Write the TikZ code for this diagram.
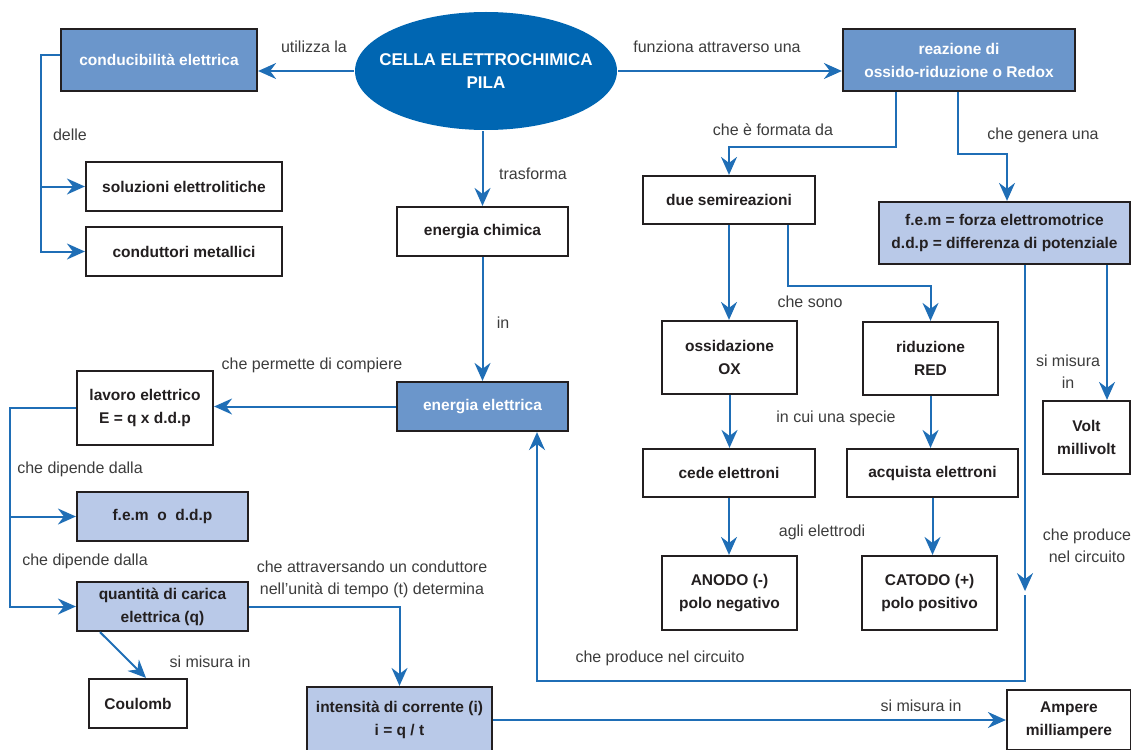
\documentclass[tikz,border=0pt]{standalone}
\usepackage{fontspec}
\setmainfont{Liberation Sans}
\usetikzlibrary{shapes.geometric,arrows.meta}
\definecolor{darkblu}{HTML}{0066B2}
\definecolor{midblu}{HTML}{6B96CB}
\definecolor{lightblu}{HTML}{B9C9E8}
\definecolor{lineblu}{HTML}{1F6EB6}
\definecolor{edge}{HTML}{231F20}
\definecolor{labgray}{HTML}{3C3C3C}
\tikzset{
every picture/.style={
line width=2pt
}}

\begin{document}
\begin{tikzpicture}[x=1pt,y=-1pt,
block/.style = {rectangle, draw=edge, line width=2.2pt, fill=white, text=edge, align=center, inner sep=2pt, font=\bfseries\fontsize{15.5}{23}\selectfont},
blockmid/.style = {block, fill=midblu, text=white},
blocklight/.style = {block, fill=lightblu},
lab/.style = {align=center, inner sep=0pt, text=labgray, font=\fontsize{16}{22}\selectfont},
arrow/.style = {draw=lineblu, line width=2pt, -{Stealth[length=18pt,width=16pt,inset=6pt]}}]

\useasboundingbox (0,0) rectangle (1131,749);

\node[ellipse, fill=darkblu, minimum width=262pt, minimum height=118pt] (cella) at (486,71) {};
\node[text=white, align=center, font=\bfseries\fontsize{17}{23}\selectfont] (cellatxt) at (cella) {CELLA ELETTROCHIMICA\\PILA};

\node[blockmid, minimum width=196pt, minimum height=62pt] (cond) at (159,60) {conducibilità elettrica};
\node[block, minimum width=196pt, minimum height=49pt] (sol) at (184,186.5) {soluzioni elettrolitiche};
\node[block, minimum width=196pt, minimum height=49pt] (metal) at (184,251.5) {conduttori metallici};
\node[blockmid, minimum width=232pt, minimum height=62pt] (redox) at (959,60) {reazione di\\ossido-riduzione o Redox};
\node[block, minimum width=172pt, minimum height=48pt] (semi) at (729,200) {due semireazioni};
\node[blocklight, minimum width=251pt, minimum height=62pt] (fem) at (1004.5,233) {f.e.m = forza elettromotrice\\d.d.p = differenza di potenziale};
\node[block, minimum width=135pt, minimum height=73pt] (ox) at (729.5,357.5) {ossidazione\\OX};
\node[block, minimum width=135pt, minimum height=73pt] (red) at (930.5,358.5) {riduzione\\RED};
\node[block, minimum width=172pt, minimum height=48pt] (cede) at (729,473) {cede elettroni};
\node[block, minimum width=171pt, minimum height=48pt] (acq) at (932.5,473) {acquista elettroni};
\node[block, minimum width=135pt, minimum height=74pt] (anodo) at (729.5,593) {ANODO (-)\\polo negativo};
\node[block, minimum width=135pt, minimum height=74pt] (catodo) at (929.5,593) {CATODO (+)\\polo positivo};
\node[block, minimum width=87pt, minimum height=73pt] (volt) at (1086.5,437.5) {Volt\\millivolt};
\node[block, minimum width=171pt, minimum height=49pt] (chim) at (482.5,231.5) {energia chimica};
\node[blockmid, minimum width=171pt, minimum height=49pt] (elet) at (482.5,406.5) {energia elettrica};
\node[block, minimum width=136pt, minimum height=74pt] (lavoro) at (145,408) {lavoro elettrico\\E = q x d.d.p};
\node[blocklight, minimum width=171pt, minimum height=49pt] (femddp) at (162.5,516.5) {f.e.m\ \ o\ \ d.d.p};
\node[blocklight, minimum width=171pt, minimum height=49pt] (carica) at (162.5,606.5) {quantità di carica\\elettrica (q)};
\node[block, minimum width=98pt, minimum height=49pt] (coul) at (138,703.5) {Coulomb};
\node[blocklight, minimum width=185pt, minimum height=66pt] (corr) at (399.5,720) {intensità di corrente (i)\\i = q / t};
\node[block, minimum width=124pt, minimum height=60pt] (amp) at (1069,720) {Ampere\\milliampere};

\node[lab] (lutil) at (314,47) {utilizza la};
\node[lab] (lfunz) at (717,47) {funziona attraverso una};
\node[lab] (ldelle) at (70,135) {delle};
\node[lab] (ltrasf) at (533,174) {trasforma};
\node[lab] (lform) at (773,130) {che è formata da};
\node[lab] (lgen) at (1043,135) {che genera una};
\node[lab] (lin) at (503,323) {in};
\node[lab] (lsono) at (810,302) {che sono};
\node[lab] (lmisv) at (1068,372) {si misura\\in};
\node[lab] (lperm) at (312,365) {che permette di compiere};
\node[lab] (lspec) at (836,418) {in cui una specie};
\node[lab] (ldip1) at (80,469) {che dipende dalla};
\node[lab] (ldip2) at (85,561) {che dipende dalla};
\node[lab] (lelet) at (822,532) {agli elettrodi};
\node[lab] (lprod1) at (1087,546) {che produce\\nel circuito};
\node[lab] (lattr) at (372,579) {che attraversando un conduttore\\nell’unità di tempo (t) determina};
\node[lab] (lmisc) at (210,662) {si misura in};
\node[lab] (lprod2) at (660,658) {che produce nel circuito};
\node[lab] (lmisa) at (921,706) {si misura in};

\draw[arrow] (cella.west) -- (cella.west -| cond.east);
\draw[arrow] (cella.east) -- (cella.east -| redox.west);
\draw[arrow] ([yshift=5pt]cond.west) -- ++(-19,0) coordinate (condl) |- (metal.west);
\draw[arrow] (condl |- sol.west) -- (sol.west);
\draw[arrow] (cella.south -| chim.north) -- (chim.north);
\draw[arrow] (chim.south) -- (elet.north);
\draw[arrow] (elet.west) -- (elet.west -| lavoro.east);
\draw[arrow] (lavoro.west) -- ++(-66,0) coordinate (lavl) |- (carica.west);
\draw[arrow] (lavl |- femddp.west) -- (femddp.west);
\draw[arrow] ([xshift=-62.5pt]carica.south) -- ([xshift=8pt]coul.north);
\draw[arrow] (carica.east) -| (corr.north);
\draw[arrow] (corr.east) -- (amp.west);
\draw[arrow] ([xshift=-63pt]redox.south) -- ++(0,55) -| (semi.north);
\draw[arrow] ([xshift=-1pt]redox.south) -- ++(0,62) -| ([xshift=2.5pt]fem.north);
\draw[arrow] (semi.south) -- (semi.south |- ox.north);
\draw[arrow] ([xshift=59pt]semi.south) -- ++(0,61) -| (red.north);
\draw[arrow] (ox.south) -- (ox.south |- cede.north);
\draw[arrow] (red.south) -- (red.south |- acq.north);
\draw[arrow] (cede.south) -- (cede.south |- anodo.north);
\draw[arrow] (acq.south) -- (acq.south |- catodo.north);
\draw[arrow] ([xshift=102.5pt]fem.south) -- ([xshift=20.5pt]volt.north);
\draw[arrow] ([xshift=20.5pt]fem.south) -- ++(0,326) coordinate (femtip);
\draw[arrow] ([yshift=-4pt]femtip) -- ++(0,86) -| ([xshift=54.5pt]elet.south);
\end{tikzpicture}
\end{document}
